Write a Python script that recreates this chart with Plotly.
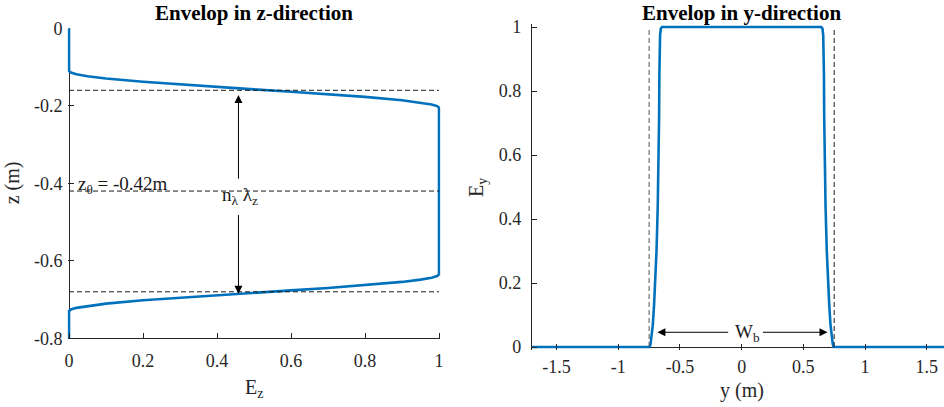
import plotly.graph_objects as go

# ---------------- data ----------------
# Left panel: envelope in z-direction (E_z vs z)
Ez_vals = [0.0, 0.0, 0.005, 0.02, 0.05, 0.1, 0.2, 0.3, 0.4, 0.5, 0.6, 0.7, 0.8, 0.9, 0.95, 0.98, 0.995, 1.0,
           1.0, 0.995, 0.98, 0.95, 0.9, 0.8, 0.7, 0.6, 0.5, 0.4, 0.3, 0.2, 0.1, 0.05, 0.02, 0.005, 0.0, 0.0]
z_vals = [0.0, -0.110, -0.1143, -0.1186, -0.1236, -0.1295, -0.138, -0.1451, -0.1514, -0.1575, -0.1636,
          -0.1699, -0.177, -0.1855, -0.1914, -0.1964, -0.2007, -0.205,
          -0.635, -0.6393, -0.6436, -0.6486, -0.6545, -0.663, -0.6701, -0.6764, -0.6825, -0.6886,
          -0.6949, -0.702, -0.7105, -0.7164, -0.7214, -0.7257, -0.730, -0.8]

# Right panel: envelope in y-direction (E_y vs y)
y_vals = [-1.7, -0.745, -0.738, -0.73, -0.72, -0.71, -0.70, -0.69, -0.68, -0.673, -0.669, -0.667, -0.665,
          -0.661, -0.655, -0.645,
          0.645, 0.655, 0.661, 0.665, 0.667, 0.669, 0.673, 0.68, 0.69, 0.70, 0.71, 0.72, 0.73, 0.738,
          0.745, 1.7]
Ey_vals = [0.0, 0.0, 0.01, 0.03, 0.07, 0.13, 0.20, 0.30, 0.44, 0.58, 0.72, 0.85, 0.93, 0.975, 0.995, 1.0,
           1.0, 0.995, 0.975, 0.93, 0.85, 0.72, 0.58, 0.44, 0.30, 0.20, 0.13, 0.07, 0.03, 0.01, 0.0, 0.0]

# reference lines
z_dashed = [-0.16, -0.42, -0.68]
y_dashed = [-0.75, 0.75]
z0_value = -0.42

# ticks
ticks_Ez = [0, 0.2, 0.4, 0.6, 0.8, 1]
ticklabels_Ez = ["0", "0.2", "0.4", "0.6", "0.8", "1"]
ticks_z = [-0.8, -0.6, -0.4, -0.2, 0]
ticklabels_z = ["-0.8", "-0.6", "-0.4", "-0.2", "0"]
ticks_y = [-1.5, -1, -0.5, 0, 0.5, 1, 1.5]
ticklabels_y = ["-1.5", "-1", "-0.5", "0", "0.5", "1", "1.5"]
ticks_Ey = [0, 0.2, 0.4, 0.6, 0.8, 1]
ticklabels_Ey = ["0", "0.2", "0.4", "0.6", "0.8", "1"]

# ---------------- figure ----------------
BLUE = "#0072BD"
AX = "#262626"
FONT = "Liberation Serif"

fig = go.Figure()

fig.add_trace(go.Scatter(x=Ez_vals, y=z_vals, mode="lines", line=dict(color=BLUE, width=2.6),
                         xaxis="x", yaxis="y", hoverinfo="skip"))
for zd in z_dashed:
    fig.add_trace(go.Scatter(x=[0, 1], y=[zd, zd], mode="lines",
                             line=dict(color="#1a1a1a", width=1, dash="5px,3px"),
                             xaxis="x", yaxis="y", hoverinfo="skip"))

fig.add_trace(go.Scatter(x=y_vals, y=Ey_vals, mode="lines", line=dict(color=BLUE, width=2.6),
                         xaxis="x2", yaxis="y2", hoverinfo="skip"))
for yd, col in zip(y_dashed, ["#555555", "#1a1a1a"]):
    fig.add_trace(go.Scatter(x=[yd, yd], y=[0, 1], mode="lines",
                             line=dict(color=col, width=1, dash="5px,3px"),
                             xaxis="x2", yaxis="y2", hoverinfo="skip"))


def tfont():
    return dict(family=FONT, size=18, color=AX)


fig.update_layout(
    template="none",
    width=944, height=407,
    autosize=False,
    margin=dict(l=0, r=0, t=0, b=0, pad=0),
    paper_bgcolor="white", plot_bgcolor="white",
    showlegend=False,
    font=dict(family=FONT, size=18, color=AX),
    xaxis=dict(domain=[0.07153, 0.46661], range=[-0.004, 1.004], anchor="y", automargin=False,
               showline=True, linecolor=AX, linewidth=1,
               zeroline=True, zerolinecolor=AX, zerolinewidth=1,
               showgrid=False, ticks="inside", ticklen=5, tickcolor=AX, tickwidth=1,
               tickvals=ticks_Ez, ticktext=ticklabels_Ez, tickfont=tfont(),
               ticklabelstandoff=6),
    yaxis=dict(domain=[0.16880, 0.93047], range=[-0.8, 0], anchor="x", automargin=False,
               showline=False, zeroline=False, showgrid=False,
               ticks="inside", ticklen=6, tickcolor=AX, tickwidth=1,
               tickvals=ticks_z, ticktext=ticklabels_z, tickfont=tfont(),
               ticklabelstandoff=4),
    xaxis2=dict(domain=[0.56345, 1.0], range=[-1.7, 1.64], anchor="y2", automargin=False,
                showline=False, zeroline=False, showgrid=False,
                ticks="inside", ticklen=6, tickcolor=AX, tickwidth=1,
                tickvals=ticks_y, ticktext=ticklabels_y, tickfont=tfont(),
                ticklabelstandoff=4),
    yaxis2=dict(domain=[0.14113, 0.93995], range=[-0.008, 1.008], anchor="x2", automargin=False,
                showline=True, linecolor=AX, linewidth=1,
                zeroline=True, zerolinecolor=AX, zerolinewidth=1,
                showgrid=False, ticks="inside", ticklen=5, tickcolor=AX, tickwidth=1,
                tickvals=ticks_Ey, ticktext=ticklabels_Ey, tickfont=tfont(),
                ticklabelstandoff=6),
)

ann = []
# titles
ann.append(dict(text="<b>Envelop in z-direction</b>", x=0.269, y=0.968, xref="paper", yref="paper",
                showarrow=False, font=dict(family=FONT, size=21, color="black"),
                xanchor="center", yanchor="middle"))
ann.append(dict(text="<b>Envelop in y-direction</b>", x=0.786, y=0.968, xref="paper", yref="paper",
                showarrow=False, font=dict(family=FONT, size=21, color="black"),
                xanchor="center", yanchor="middle"))
# axis labels
ann.append(dict(text="z (m)", x=0.0141, y=0.5504, xref="paper", yref="paper", showarrow=False,
                textangle=-90, font=dict(family=FONT, size=20, color=AX), xanchor="center", yanchor="middle"))
ann.append(dict(text="E<sub>z</sub>", x=0.269, y=0.045, xref="paper", yref="paper", showarrow=False,
                font=dict(family=FONT, size=20, color=AX), xanchor="center", yanchor="middle"))
ann.append(dict(text="E<sub>y</sub>", x=0.505, y=0.54, xref="paper", yref="paper", showarrow=False,
                textangle=-90, font=dict(family=FONT, size=20, color=AX), xanchor="center", yanchor="middle"))
ann.append(dict(text="y (m)", x=0.786, y=0.04, xref="paper", yref="paper", showarrow=False,
                font=dict(family=FONT, size=20, color=AX), xanchor="center", yanchor="middle"))

# left-panel annotations
ann.append(dict(text="z<sub>θ</sub> = %.2fm" % z0_value, x=0.02, y=-0.405, xref="x", yref="y",
                showarrow=False, font=dict(family=FONT, size=19, color="#1a1a1a"),
                xanchor="left", yanchor="middle"))
ann.append(dict(text="n<sub>λ</sub> λ<sub>z</sub>", x=0.462, y=-0.432, xref="x", yref="y",
                showarrow=False, font=dict(family=FONT, size=19, color="#1a1a1a"),
                xanchor="center", yanchor="middle"))


def arrow(**kw):
    d = dict(showarrow=True, arrowhead=2, arrowsize=1.6, arrowwidth=1, arrowcolor="black", text="")
    d.update(kw)
    return d


ann.append(arrow(x=0.458, y=-0.172, ax=0.458, ay=-0.392, xref="x", yref="y", axref="x", ayref="y"))
ann.append(arrow(x=0.458, y=-0.685, ax=0.458, ay=-0.478, xref="x", yref="y", axref="x", ayref="y"))
# right-panel annotations
ann.append(dict(text="W<sub>b</sub>", x=0.045, y=0.045, xref="x2", yref="y2",
                showarrow=False, font=dict(family=FONT, size=19, color="#1a1a1a"),
                xanchor="center", yanchor="middle"))
ann.append(arrow(x=-0.683, y=0.046, ax=-0.097, ay=0.046, xref="x2", yref="y2", axref="x2", ayref="y2"))
ann.append(arrow(x=0.696, y=0.046, ax=0.16, ay=0.046, xref="x2", yref="y2", axref="x2", ayref="y2"))

fig.update_layout(annotations=ann)

fig.write_html("out.html",
               config={"displayModeBar": False},
               post_script="document.body.style.margin='0';document.body.style.padding='0';"
                           "document.body.style.overflow='hidden';")
